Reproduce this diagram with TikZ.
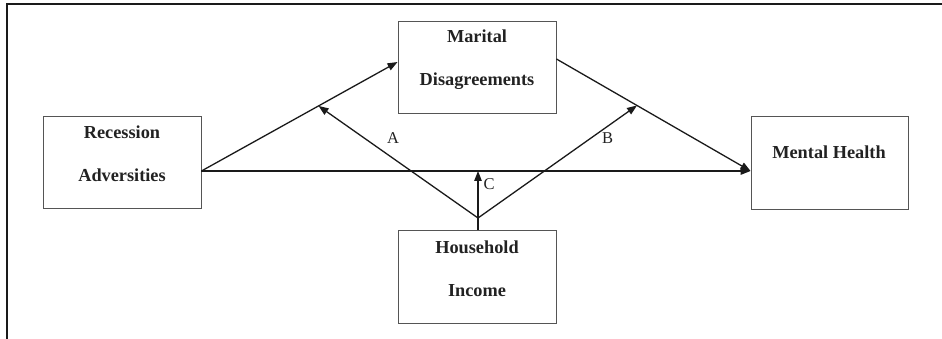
\documentclass[tikz,border=0pt]{standalone}
\usepackage{fontspec}
\setmainfont{Liberation Serif}
\usetikzlibrary{arrows.meta,calc}
\definecolor{ink}{HTML}{1A1A1A}
\definecolor{boxgray}{HTML}{555555}
\definecolor{txt}{HTML}{222222}
\begin{document}
\begin{tikzpicture}[x=1pt,y=-1pt,
  box/.style={draw=boxgray, line width=0.9pt, minimum width=158pt, minimum height=92pt, inner sep=0pt},
  lbl/.style={font=\fontsize{18.3}{20}\selectfont\bfseries, text=txt, anchor=base, inner sep=0pt},
  letter/.style={font=\fontsize{16.5}{18}\selectfont, text=txt, inner sep=0pt},
  arr/.style={draw=ink, line width=1.3pt, -{Triangle[length=10pt,width=7.5pt]}}]
\useasboundingbox (0,0) rectangle (942,339);
\draw[line width=2.2pt, ink] (7,339) -- (7,4) -- (942,4);
% boxes
\node[box] (rec) at (122,162) {};
\node[box] (mar) at (477,67) {};
\node[box, minimum width=157pt, minimum height=93pt] (mh) at (829.5,162.5) {};
\node[box, minimum height=93pt] (hi) at (477,276.5) {};
% texts
\node[lbl] (recA) at (122,139) {Recession};
\node[lbl] (recB) at (122,182) {Adversities};
\node[lbl] (marA) at (477,43) {Marital};
\node[lbl] (marB) at (477,86) {Disagreements};
\node[lbl] (mhA) at (829,159) {Mental Health};
\node[lbl] (hiA) at (477,253) {Household};
\node[lbl] (hiB) at (477,296) {Income};
% connection points
\coordinate (r1) at ([yshift=-9pt]rec.east);
\coordinate (m1) at ([yshift=5pt]mar.west);
\coordinate (m2) at ([yshift=8pt]mar.east);
\coordinate (h1) at ([yshift=-8.5pt]mh.west);
\coordinate (mA) at ($(r1)!0.597!(m1)$);
\coordinate (mB) at ($(m2)!0.415!(h1)$);
\coordinate (v) at (478,218);
% arrows
\draw[arr] (r1) -- (m1);
\draw[arr] (m2) -- (h1);
\draw[arr] (r1) -- (h1);
\draw[arr] (v) -- (mA);
\draw[arr] (v) -- (mB);
\draw[arr] (hi.north -| v) -- (v |- r1);
% letters
\node[letter] (lA) at (393,138) {A};
\node[letter] (lB) at (607.5,138) {B};
\node[letter] (lC) at (489,184) {C};
\end{tikzpicture}
\end{document}
